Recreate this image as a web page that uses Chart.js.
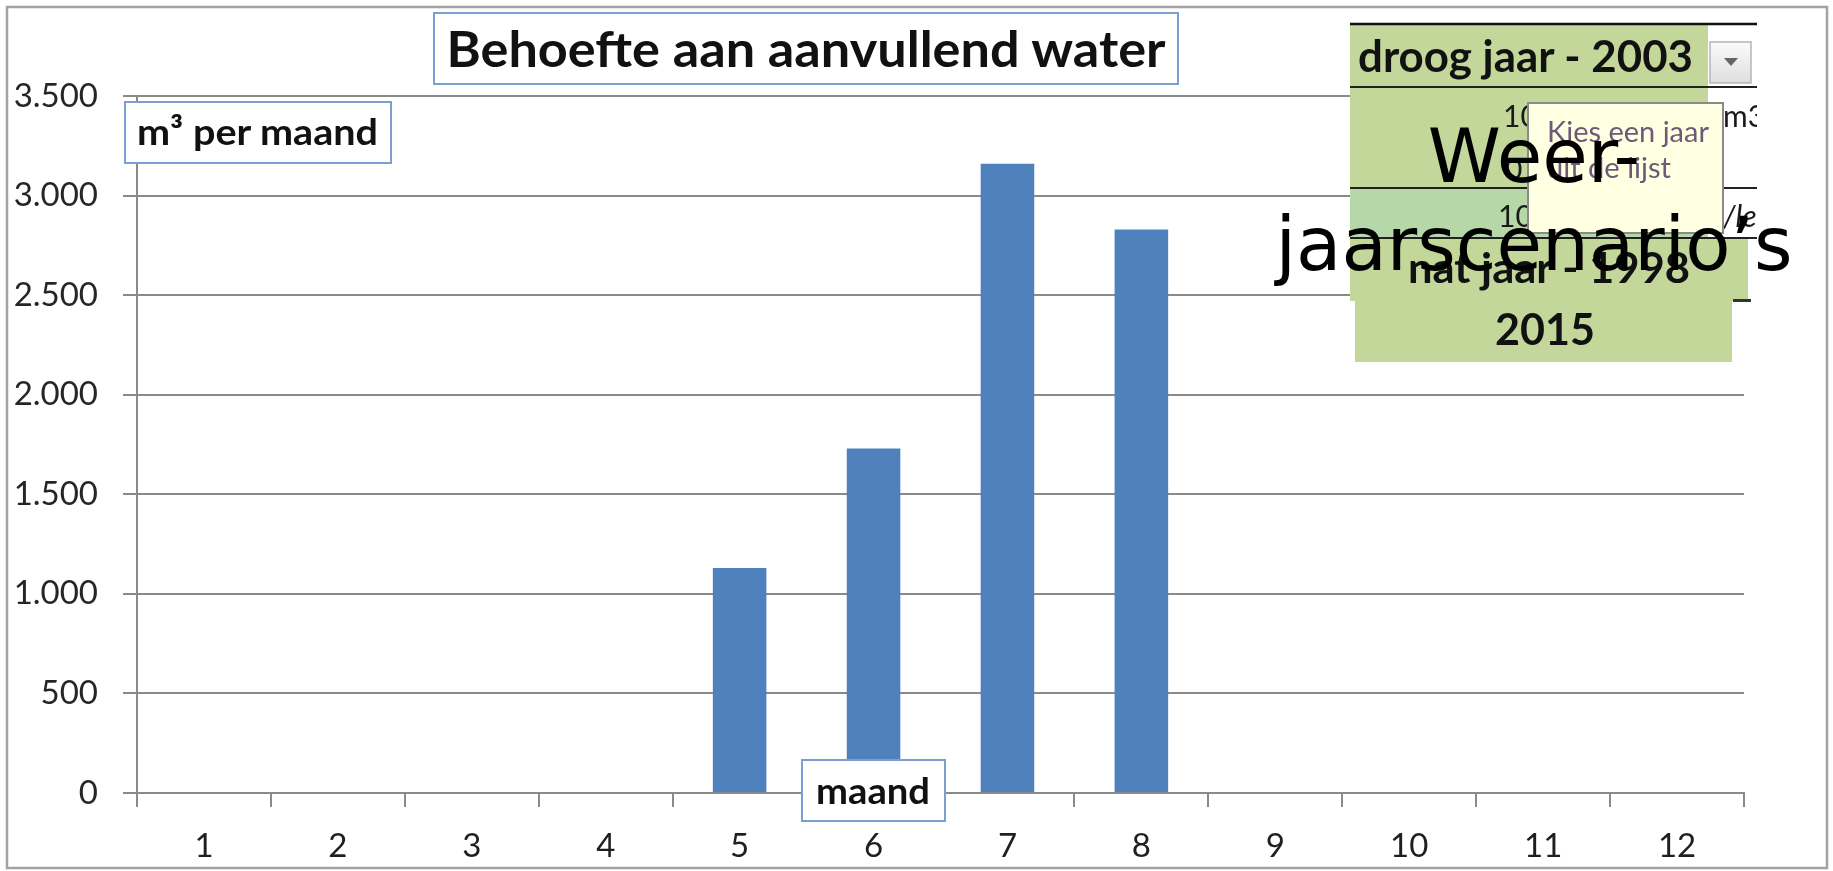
<!DOCTYPE html>
<html>
<head>
<meta charset="utf-8">
<script src="https://cdn.jsdelivr.net/npm/chart.js@4.4.1/dist/chart.umd.min.js"></script>
<style>
  html, body { margin: 0; padding: 0; background: #fff; }
  #wrap { position: relative; width: 1833px; height: 871px; overflow: hidden; }
  #chart, #overlay { position: absolute; left: 0; top: 0; }
  .b { font-family: Lato, "Open Sans", sans-serif; font-weight: 700; fill: #111; }
  .r { font-family: Lato, "Open Sans", sans-serif; font-weight: 400; fill: #1a1a1a; }
  .big { font-family: "DejaVu Sans", sans-serif; font-size: 74px; fill: #000; }
</style>
</head>
<body>
<div id="wrap">
  <canvas id="chart" width="1833" height="871"></canvas>
  <svg id="overlay" width="1833" height="871">
    <defs>
      <clipPath id="cells"><rect x="1350" y="0" width="407" height="400"/></clipPath>
    </defs>
    <!-- outer frame -->
    <rect x="7" y="7" width="1820" height="861" fill="none" stroke="#a3a3a3" stroke-width="2.5"/>

    <!-- title -->
    <rect x="434" y="13" width="744" height="71" fill="#fff" stroke="#7c9fcf" stroke-width="2"/>
    <text class="b" x="806" y="67" font-size="49" text-anchor="middle" textLength="719" lengthAdjust="spacingAndGlyphs">Behoefte aan aanvullend water</text>

    <!-- axis titles -->
    <rect x="125" y="102" width="266" height="61" fill="#fff" stroke="#7c9fcf" stroke-width="2"/>
    <text class="b" x="137" y="145" font-size="37" textLength="241" lengthAdjust="spacingAndGlyphs">m³ per maand</text>
    <rect x="802" y="760" width="143" height="61" fill="#fff" stroke="#7c9fcf" stroke-width="2"/>
    <text class="b" x="816" y="804" font-size="37" textLength="114" lengthAdjust="spacingAndGlyphs">maand</text>

    <!-- spreadsheet cells on top of the chart -->
    <rect x="1350" y="24" width="407" height="214" fill="#fff"/>
    <rect x="1350" y="24" width="358" height="164" fill="#c4d79b"/>
    <rect x="1350" y="188" width="358" height="50" fill="#b6d7a8"/>
    <g clip-path="url(#cells)">
      <text class="r" x="1503" y="127" font-size="30">10</text>
      <text class="r" x="1723" y="127" font-size="30">m3</text>
      <text class="r" x="1505" y="180" font-size="30">0</text>
      <text class="r" x="1498" y="227" font-size="30">10</text>
      <text class="r" x="1723" y="227" font-size="30" font-style="italic">/le</text>
    </g>
    <line x1="1350" y1="24" x2="1757" y2="24" stroke="#111" stroke-width="2.5"/>
    <line x1="1350" y1="87" x2="1757" y2="87" stroke="#222" stroke-width="2"/>
    <line x1="1350" y1="188" x2="1757" y2="188" stroke="#222" stroke-width="2"/>
    <line x1="1350" y1="238" x2="1757" y2="238" stroke="#222" stroke-width="2"/>
    <text class="b" x="1358" y="72" font-size="43" textLength="335" lengthAdjust="spacingAndGlyphs">droog jaar - 2003</text>
    <!-- dropdown button -->
    <defs>
      <linearGradient id="btn" x1="0" y1="0" x2="0" y2="1">
        <stop offset="0" stop-color="#fbfbfb"/>
        <stop offset="1" stop-color="#dedede"/>
      </linearGradient>
    </defs>
    <rect x="1710" y="42" width="41" height="41" fill="url(#btn)" stroke="#b5b5b5" stroke-width="1.5"/>
    <polygon points="1724,58 1738,58 1731,66" fill="#666"/>

    <!-- tooltip -->
    <rect x="1528" y="103" width="195" height="130" fill="#ffffe1" stroke="#8a8a8a" stroke-width="2"/>
    <text class="r" x="1547" y="142" font-size="28" style="fill:#6e5a78" textLength="162" lengthAdjust="spacingAndGlyphs">Kies een jaar</text>
    <text class="r" x="1547" y="178" font-size="28" style="fill:#6e5a78" textLength="124" lengthAdjust="spacingAndGlyphs">uit de lijst</text>

    <!-- second selection -->
    <rect x="1350" y="239" width="398" height="62" fill="#c4d79b"/>
    <rect x="1355" y="297" width="377" height="65" fill="#c4d79b"/>
    <text class="b" x="1408" y="283" font-size="42" textLength="282" lengthAdjust="spacingAndGlyphs">nat jaar - 1998</text>
    <rect x="1733" y="299" width="18" height="3" fill="#333"/>
    <text class="b" x="1545" y="345" font-size="43" text-anchor="middle" textLength="100" lengthAdjust="spacingAndGlyphs">2015</text>

    <!-- slide caption -->
    <text class="big" x="1534" y="182" text-anchor="middle">Weer-</text>
    <text class="big" x="1534" y="270" text-anchor="middle">jaarscenario’s</text>
  </svg>
</div>
<script>
// months and water demand (m3 per month), droog jaar 2003
const months = ["1", "2", "3", "4", "5", "6", "7", "8", "9", "10", "11", "12"];
const waterNeed = [0, 0, 0, 0, 1130, 1730, 3160, 2830, 0, 0, 0, 0];
const yMax = 3500;
const yStep = 500;

const axisGrey = "#8a8a8a";
const labelFont = { family: "Lato", size: 33 };

function formatNl(v) {
  return String(v).replace(/\B(?=(\d{3})+(?!\d))/g, ".");
}

const ctx = document.getElementById("chart").getContext("2d");

new Chart(ctx, {
  type: "bar",
  data: {
    labels: months,
    datasets: [
      {
        data: waterNeed,
        backgroundColor: "#4f81bd",
        barPercentage: 0.4,
        categoryPercentage: 1,
      },
    ],
  },
  options: {
    responsive: false,
    animation: false,
    devicePixelRatio: 1,
    layout: { padding: { left: 0, right: 89, top: 96, bottom: 0 } },
    plugins: {
      legend: { display: false },
      tooltip: { enabled: false },
    },
    scales: {
      x: {
        grid: {
          drawOnChartArea: false,
          color: axisGrey,
          lineWidth: 2,
          tickLength: 14,
          offset: true,
        },
        border: { color: axisGrey, width: 2 },
        ticks: { font: labelFont, color: "#1f1f1f", padding: 20, maxRotation: 0 },
        afterFit: (scale) => { scale.height = 78; },
      },
      y: {
        min: 0,
        max: yMax,
        ticks: {
          stepSize: yStep,
          callback: (value) => formatNl(value),
          font: labelFont,
          color: "#262626",
          padding: 25,
        },
        grid: { color: axisGrey, lineWidth: 2, tickLength: 14 },
        border: { color: axisGrey, width: 2 },
        afterFit: (scale) => { scale.width = 137; },
      },
    },
  },
});
</script>
</body>
</html>
